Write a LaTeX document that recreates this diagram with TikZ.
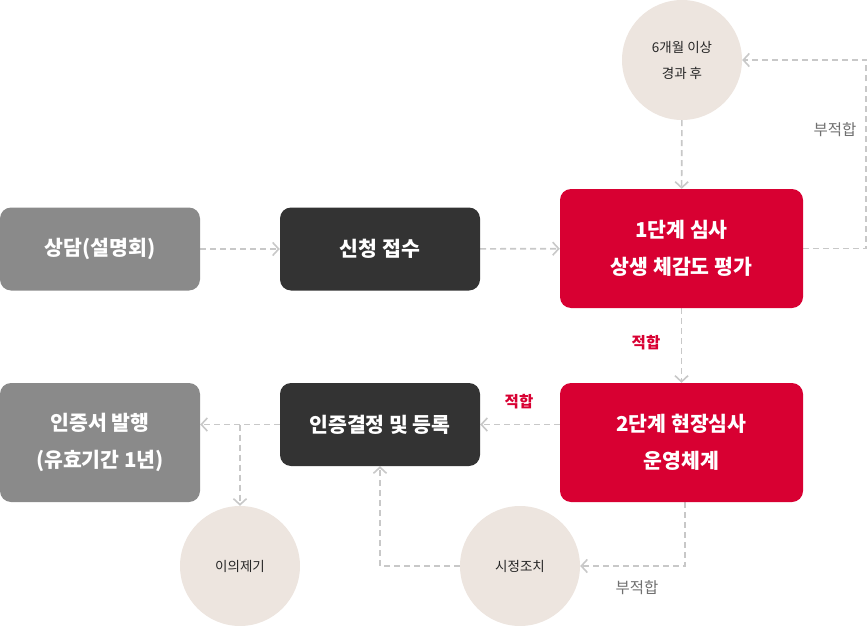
\documentclass[tikz,border=0pt]{standalone}
\usepackage{fontspec}
\setmainfont{Noto Sans CJK KR}
\usepackage{tikz}
\usetikzlibrary{arrows.meta}
\pgfdeclarelayer{bg}
\pgfsetlayers{bg,main}
\definecolor{boxgray}{HTML}{8A8A8A}
\definecolor{boxdark}{HTML}{333333}
\definecolor{boxred}{HTML}{D80032}
\definecolor{roundfill}{HTML}{EDE5DF}
\definecolor{flowgray}{HTML}{C8C8C8}
\definecolor{notegray}{HTML}{707070}
\tikzset{
  stepbox/.style={rounded corners=11pt, minimum width=200pt, minimum height=83pt,
    inner sep=0pt, text=white, align=center,
    font=\fontsize{20.5}{37}\selectfont\bfseries},
  bigbox/.style={stepbox, minimum width=243pt, minimum height=119pt},
  roundnote/.style={circle, fill=roundfill, minimum size=120pt, inner sep=0pt,
    align=center, text=black!85, font=\fontsize{13.5}{26}\selectfont},
  flow/.style={draw=flowgray, line width=1.6pt, dash pattern=on 6pt off 4pt,
    -{Straight Barb[length=6pt,width=13pt]}},
  passnote/.style={text=boxred, font=\fontsize{15.5}{17}\selectfont\bfseries},
  failnote/.style={text=notegray, font=\fontsize{15.5}{17}\selectfont},
}
\begin{document}
\begin{tikzpicture}[x=1pt,y=-1pt]
        \useasboundingbox (0,0) rectangle (868,626);
        \node (b0) [stepbox, fill=boxgray] at (100, 249) {상담(설명회)};
        \node (b1) [stepbox, fill=boxdark] at (380, 249) {신청 접수};
        \node (b2) [bigbox, fill=boxred] at (681.5, 248.5) {1단계 심사\\상생 체감도 평가};
        \node (b3) [stepbox, fill=boxgray, minimum height=119pt] at (100, 442.5) {인증서 발행\\(유효기간 1년)};
        \node (b4) [stepbox, fill=boxdark] at (380, 424.5) {인증결정 및 등록};
        \node (b5) [bigbox, fill=boxred] at (681.5, 442.5) {2단계 현장심사\\운영체계};
        \node (c0) [roundnote] at (682, 60) {6개월 이상\\경과 후};
        \node (c1) [roundnote] at (240, 566) {이의제기};
        \node (c2) [roundnote] at (520, 566) {시정조치};
        \coordinate (j0) at (240, 424.5);
        \node (l0) [failnote] at (835, 130) {부적합};
        \node (l1) [passnote] at (646, 343) {적합};
        \node (l2) [passnote] at (519, 402) {적합};
        \node (l3) [failnote] at (637, 588) {부적합};
        \begin{pgfonlayer}{bg}
                \draw [flow] (b0) -- (b1);
                \draw [flow] (b1) -- (b2);
                \draw [flow] (c0) -- (b2);
                \draw [flow] (b2.east) -- ++(63,0) |- (c0);
                \draw [flow] (b2) -- (b5);
                \draw [flow] (b5.west |- b4.east) -- (b4.east);
                \draw [flow] (b4.west) -- (b3.east |- b4.west);
                \draw [flow] (j0) -- (c1);
                \draw [flow] ([xshift=3.5pt]b5.south) |- (c2);
                \draw [flow] (c2) -| (b4);
        \end{pgfonlayer}
\end{tikzpicture}
\end{document}
